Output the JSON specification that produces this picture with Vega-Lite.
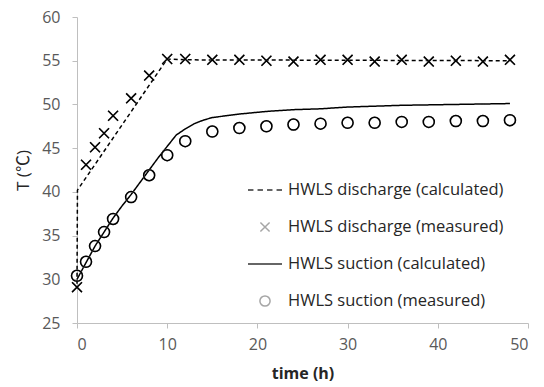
{
  "$schema": "https://vega.github.io/schema/vega-lite/v6.json",
  "width": 451,
  "height": 306,
  "autosize": {"type": "none"},
  "padding": {"left": 77, "top": 17, "right": 16, "bottom": 64},
  "background": "white",
  "config": {
    "view": {"stroke": null},
    "font": "Open Sans",
    "axis": {
      "grid": false,
      "domainColor": "#bfbfbf",
      "tickColor": "#bfbfbf",
      "tickSize": 5,
      "labelFont": "Open Sans",
      "labelFontSize": 16,
      "labelColor": "#595959",
      "titleFont": "Open Sans, Noto Sans CJK KR",
      "titleColor": "#262626"
    },
    "legend": {
      "symbolSize": 1156,
      "symbolStrokeWidth": 1.5,
      "symbolFillColor": "transparent",
      "labelFont": "Open Sans",
      "labelFontSize": 16.5,
      "labelColor": "#262626",
      "labelOffset": 5,
      "labelLimit": 400,
      "rowPadding": 10,
      "padding": 0
    }
  },
  "datasets": {
    "calc": [
      {"series": "HWLS discharge (calculated)", "t": 0, "T": 29.5},
      {"series": "HWLS discharge (calculated)", "t": 0.05, "T": 40.2},
      {"series": "HWLS discharge (calculated)", "t": 10, "T": 55.2},
      {"series": "HWLS discharge (calculated)", "t": 12, "T": 55.1},
      {"series": "HWLS discharge (calculated)", "t": 48, "T": 55.0},
      {"series": "HWLS suction (calculated)", "t": 0, "T": 30.0},
      {"series": "HWLS suction (calculated)", "t": 1, "T": 31.9},
      {"series": "HWLS suction (calculated)", "t": 2, "T": 33.8},
      {"series": "HWLS suction (calculated)", "t": 3, "T": 35.4},
      {"series": "HWLS suction (calculated)", "t": 4, "T": 37.0},
      {"series": "HWLS suction (calculated)", "t": 5, "T": 38.4},
      {"series": "HWLS suction (calculated)", "t": 6, "T": 39.7},
      {"series": "HWLS suction (calculated)", "t": 7, "T": 41.1},
      {"series": "HWLS suction (calculated)", "t": 8, "T": 42.5},
      {"series": "HWLS suction (calculated)", "t": 9, "T": 43.9},
      {"series": "HWLS suction (calculated)", "t": 10, "T": 45.2},
      {"series": "HWLS suction (calculated)", "t": 11, "T": 46.5},
      {"series": "HWLS suction (calculated)", "t": 12, "T": 47.2},
      {"series": "HWLS suction (calculated)", "t": 13, "T": 47.8},
      {"series": "HWLS suction (calculated)", "t": 14, "T": 48.2},
      {"series": "HWLS suction (calculated)", "t": 15, "T": 48.5},
      {"series": "HWLS suction (calculated)", "t": 18, "T": 48.9},
      {"series": "HWLS suction (calculated)", "t": 21, "T": 49.2},
      {"series": "HWLS suction (calculated)", "t": 24, "T": 49.4},
      {"series": "HWLS suction (calculated)", "t": 27, "T": 49.5},
      {"series": "HWLS suction (calculated)", "t": 30, "T": 49.7},
      {"series": "HWLS suction (calculated)", "t": 36, "T": 49.9},
      {"series": "HWLS suction (calculated)", "t": 42, "T": 50.0},
      {"series": "HWLS suction (calculated)", "t": 48, "T": 50.1}
    ],
    "meas": [
      {"series": "HWLS discharge (measured)", "t": 0, "T": 29.1},
      {"series": "HWLS discharge (measured)", "t": 1, "T": 43.1},
      {"series": "HWLS discharge (measured)", "t": 2, "T": 45.1},
      {"series": "HWLS discharge (measured)", "t": 3, "T": 46.7},
      {"series": "HWLS discharge (measured)", "t": 4, "T": 48.7},
      {"series": "HWLS discharge (measured)", "t": 6, "T": 50.7},
      {"series": "HWLS discharge (measured)", "t": 8, "T": 53.3},
      {"series": "HWLS discharge (measured)", "t": 10, "T": 55.2},
      {"series": "HWLS discharge (measured)", "t": 12, "T": 55.2},
      {"series": "HWLS discharge (measured)", "t": 15, "T": 55.1},
      {"series": "HWLS discharge (measured)", "t": 18, "T": 55.1},
      {"series": "HWLS discharge (measured)", "t": 21, "T": 55.0},
      {"series": "HWLS discharge (measured)", "t": 24, "T": 54.9},
      {"series": "HWLS discharge (measured)", "t": 27, "T": 55.1},
      {"series": "HWLS discharge (measured)", "t": 30, "T": 55.1},
      {"series": "HWLS discharge (measured)", "t": 33, "T": 54.9},
      {"series": "HWLS discharge (measured)", "t": 36, "T": 55.1},
      {"series": "HWLS discharge (measured)", "t": 39, "T": 54.9},
      {"series": "HWLS discharge (measured)", "t": 42, "T": 55.0},
      {"series": "HWLS discharge (measured)", "t": 45, "T": 54.9},
      {"series": "HWLS discharge (measured)", "t": 48, "T": 55.1},
      {"series": "HWLS suction (measured)", "t": 0, "T": 30.4},
      {"series": "HWLS suction (measured)", "t": 1, "T": 32.0},
      {"series": "HWLS suction (measured)", "t": 2, "T": 33.8},
      {"series": "HWLS suction (measured)", "t": 3, "T": 35.4},
      {"series": "HWLS suction (measured)", "t": 4, "T": 36.9},
      {"series": "HWLS suction (measured)", "t": 6, "T": 39.4},
      {"series": "HWLS suction (measured)", "t": 8, "T": 41.9},
      {"series": "HWLS suction (measured)", "t": 10, "T": 44.2},
      {"series": "HWLS suction (measured)", "t": 12, "T": 45.8},
      {"series": "HWLS suction (measured)", "t": 15, "T": 46.9},
      {"series": "HWLS suction (measured)", "t": 18, "T": 47.3},
      {"series": "HWLS suction (measured)", "t": 21, "T": 47.5},
      {"series": "HWLS suction (measured)", "t": 24, "T": 47.7},
      {"series": "HWLS suction (measured)", "t": 27, "T": 47.8},
      {"series": "HWLS suction (measured)", "t": 30, "T": 47.9},
      {"series": "HWLS suction (measured)", "t": 33, "T": 47.9},
      {"series": "HWLS suction (measured)", "t": 36, "T": 48.0},
      {"series": "HWLS suction (measured)", "t": 39, "T": 48.0},
      {"series": "HWLS suction (measured)", "t": 42, "T": 48.1},
      {"series": "HWLS suction (measured)", "t": 45, "T": 48.1},
      {"series": "HWLS suction (measured)", "t": 48, "T": 48.2}
    ]
  },
  "encoding": {
    "x": {
      "field": "t", "type": "quantitative",
      "scale": {"domain": [0, 50], "nice": false, "zero": false},
      "axis": {"values": [0, 10, 20, 30, 40, 50], "title": "time (h)", "titleFontWeight": "bold", "titleFontSize": 16, "labelPadding": 8, "titlePadding": 13}
    },
    "y": {
      "field": "T", "type": "quantitative",
      "scale": {"domain": [25, 60], "nice": false, "zero": false},
      "axis": {"values": [25, 30, 35, 40, 45, 50, 55, 60], "title": "T (℃)", "titleFontWeight": "normal", "titleFontSize": 17, "labelPadding": 12, "titlePadding": 9}
    }
  },
  "layer": [
    {
      "data": {"name": "calc"},
      "mark": {"type": "line", "color": "#000000", "strokeWidth": 1.5},
      "encoding": {
        "strokeDash": {
          "field": "series", "type": "nominal",
          "scale": {"domain": ["HWLS discharge (calculated)", "HWLS suction (calculated)"], "range": [[4, 3], [1, 0]]},
          "legend": null
        }
      }
    },
    {
      "data": {"name": "meas"},
      "mark": {"type": "point", "filled": false, "strokeWidth": 1.5, "size": 1350, "opacity": 1},
      "encoding": {
        "shape": {
          "field": "series", "type": "nominal",
          "scale": {
            "domain": ["HWLS discharge (calculated)", "HWLS discharge (measured)", "HWLS suction (calculated)", "HWLS suction (measured)"],
            "range": [
              "M-1,0H-0.68M-0.44,0H-0.12M0.12,0H0.44M0.68,0H1",
              "M-0.27,-0.27L0.27,0.27M-0.27,0.27L0.27,-0.27",
              "M-1,0H1",
              "M0.3,0A0.3,0.3 0 1,1 -0.3,0A0.3,0.3 0 1,1 0.3,0"
            ]
          },
          "legend": {"title": null, "orient": "none", "legendX": 170, "legendY": 155}
        },
        "stroke": {
          "field": "series", "type": "nominal",
          "scale": {
            "domain": ["HWLS discharge (calculated)", "HWLS discharge (measured)", "HWLS suction (calculated)", "HWLS suction (measured)"],
            "range": ["#333333", "#a6a6a6", "#333333", "#a6a6a6"]
          },
          "legend": {"title": null, "orient": "none", "legendX": 170, "legendY": 155}
        }
      }
    },
    {
      "data": {"name": "meas"},
      "mark": {"type": "point", "filled": false, "stroke": "#000000", "strokeWidth": 1.5, "size": 1350, "opacity": 1},
      "encoding": {
        "shape": {"field": "series", "type": "nominal", "legend": null}
      }
    }
  ]
}
